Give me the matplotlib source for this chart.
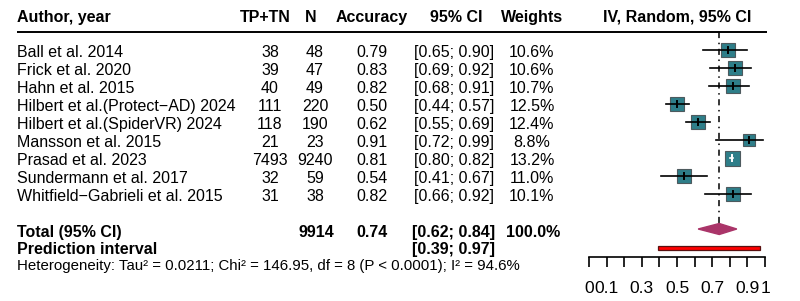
import numpy as np
import matplotlib
matplotlib.use("Agg")
import matplotlib.pyplot as plt
from matplotlib.patches import Rectangle

plt.rcParams['font.family'] = ['Liberation Sans', 'DejaVu Sans']

# study data
studies = ["Ball et al. 2014", "Frick et al. 2020", "Hahn et al. 2015",
           "Hilbert et al.(Protect\u2212AD) 2024", "Hilbert et al.(SpiderVR) 2024",
           "Mansson et al. 2015", "Prasad et al. 2023", "Sundermann et al. 2017",
           "Whitfield\u2212Gabrieli et al. 2015"]
tp_tn = [38, 39, 40, 111, 118, 21, 7493, 32, 31]
n_tot = [48, 47, 49, 220, 190, 23, 9240, 59, 38]
acc = [0.79, 0.83, 0.82, 0.50, 0.62, 0.91, 0.81, 0.54, 0.82]
ci_lo = [0.65, 0.69, 0.68, 0.44, 0.55, 0.72, 0.80, 0.41, 0.66]
ci_hi = [0.90, 0.92, 0.91, 0.57, 0.69, 0.99, 0.82, 0.67, 0.92]
weights = [10.6, 10.6, 10.7, 12.5, 12.4, 8.8, 13.2, 11.0, 10.1]

pooled_n = 9914
pooled = 0.74
pooled_lo, pooled_hi = 0.62, 0.84
pred_lo, pred_hi = 0.39, 0.97
het_text = "Heterogeneity: Tau\u00b2 = 0.0211; Chi\u00b2 = 146.95, df = 8 (P < 0.0001); I\u00b2 = 94.6%"

fig = plt.figure(figsize=(8, 3.01), dpi=100)
W, H = 800, 301

# text layer in pixel coordinates
ax_t = fig.add_axes([0, 0, 1, 1])
ax_t.set_xlim(0, W)
ax_t.set_ylim(H, 0)
ax_t.axis('off')

# forest panel
x0, x1 = 589, 765
ax_f = fig.add_axes([x0 / W, 0, (x1 - x0) / W, 1])
ax_f.set_xlim(0, 1)
ax_f.set_ylim(H, 0)
ax_f.patch.set_alpha(0)
for s in ['top', 'left', 'right']:
    ax_f.spines[s].set_visible(False)
ax_f.set_yticks([])

fs = 11.5
head_y = 17
row_y = [50 + 18 * i for i in range(len(studies))]
tot_y = 230
pred_y = 248
axis_y = 257
bl = 7  # baseline offset below the row centre

col_tp, col_n, col_acc, col_ci, col_w = 270, 315, 372, 454, 532

# header
hdr = dict(fontsize=fs, fontweight='bold', va='baseline')
hb = head_y + 5
ax_t.text(17, hb, "Author, year", ha='left', **hdr)
ax_t.text(265, hb, "TP+TN", ha='center', **hdr)
ax_t.text(311, hb, "N", ha='center', **hdr)
ax_t.text(col_acc, hb, "Accuracy", ha='center', **hdr)
ax_t.text(col_ci + 2, hb, "95% CI", ha='center', **hdr)
ax_t.text(col_w, hb, "Weights", ha='center', **hdr)
ax_t.text(677, hb, "IV, Random, 95% CI", ha='center', **hdr)
ax_t.plot([17, 767], [32, 32], color='black', lw=1.4, solid_capstyle='butt')

# study rows
for i, y in enumerate(row_y):
    y = y + bl
    kw = dict(va='baseline', fontsize=fs)
    ax_t.text(17, y, studies[i], ha='left', **kw)
    ax_t.text(col_tp, y, str(tp_tn[i]), ha='center', **kw)
    ax_t.text(col_n, y, str(n_tot[i]), ha='center', **kw)
    ax_t.text(col_acc, y, f"{acc[i]:.2f}", ha='center', **kw)
    ax_t.text(col_ci, y, f"[{ci_lo[i]:.2f}; {ci_hi[i]:.2f}]", ha='center', **kw)
    ax_t.text(col_w, y, f"{weights[i]:.1f}%", ha='center', **kw)

# totals
bold = dict(fontsize=fs, fontweight='bold', va='baseline')
ax_t.text(17, tot_y + bl, "Total (95% CI)", ha='left', **bold)
ax_t.text(col_n + 1, tot_y + bl, str(pooled_n), ha='center', **bold)
ax_t.text(col_acc, tot_y + bl, f"{pooled:.2f}", ha='center', **bold)
ax_t.text(col_ci, tot_y + bl, f"[{pooled_lo:.2f}; {pooled_hi:.2f}]", ha='center', **bold)
ax_t.text(col_w + 1, tot_y + bl, "100.0%", ha='center', **bold)
ax_t.text(17, pred_y + 6, "Prediction interval", ha='left', **bold)
ax_t.text(col_ci, pred_y + 6, f"[{pred_lo:.2f}; {pred_hi:.2f}]", ha='center', **bold)
ax_t.text(17, 270, het_text, ha='left', va='baseline', fontsize=10.8)

# pooled reference line
ax_f.plot([pooled, pooled], [32, tot_y - 6], color='black', lw=1.1,
          linestyle=(0, (4, 3, 1, 3)))

# squares and CIs
wmax = max(weights)
for i, y in enumerate(row_y):
    ms = 10.8 * np.sqrt(weights[i] / wmax)
    ax_f.plot(acc[i], y, marker='s', markersize=ms, markerfacecolor='#2E7E89',
              markeredgecolor='#4d5a5e', markeredgewidth=0.8, zorder=3)
    half_px = ms / 0.72 / 2 / (x1 - x0)
    inside = (acc[i] - ci_lo[i]) < half_px and (ci_hi[i] - acc[i]) < half_px
    c = 'white' if inside else 'black'
    ax_f.plot([ci_lo[i], ci_hi[i]], [y, y], color=c, lw=1.2, zorder=4)
    ax_f.plot([acc[i], acc[i]], [y - 3, y + 3], color=c, lw=1.4, zorder=4)

# diamond
ax_f.fill([pooled_lo, pooled, pooled_hi, pooled],
          [tot_y - 1, tot_y - 6.5, tot_y - 1, tot_y + 4.5],
          color='#AA3569', edgecolor='#AA3569', zorder=3)

# prediction interval
ax_f.add_patch(Rectangle((pred_lo, pred_y - 2), pred_hi - pred_lo, 4,
                         facecolor='#FF0000', edgecolor='#5a1010', lw=0.9, zorder=3))

# x axis
ax_f.spines['bottom'].set_position(('data', axis_y))
ax_f.spines['bottom'].set_linewidth(1.2)
ticks = np.round(np.arange(0, 1.01, 0.1), 1)
labels = ["0", "0.1", "", "0.3", "", "0.5", "", "0.7", "", "0.9", "1"]
ax_f.set_xticks(ticks)
ax_f.set_xticklabels(labels, fontsize=12.5)
ax_f.tick_params(axis='x', direction='out', length=7.2, width=1.2, pad=10)

fig.savefig("out.png", dpi=100)
